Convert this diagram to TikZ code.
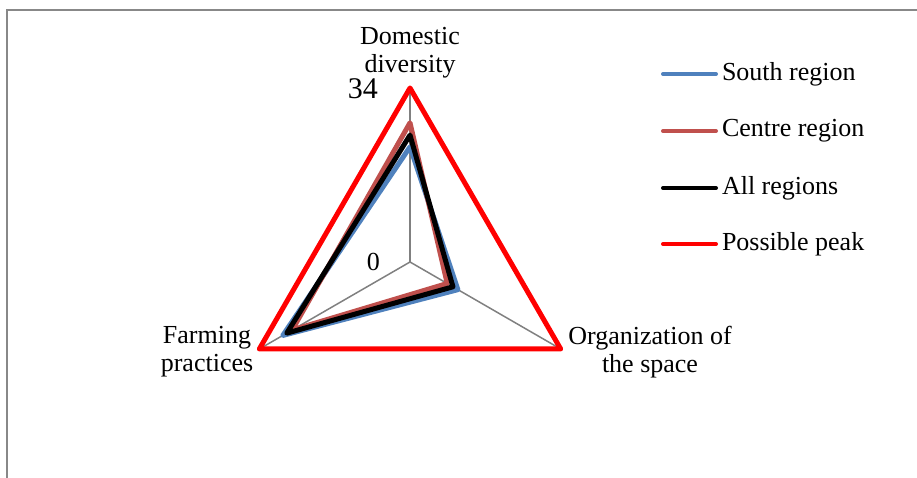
\documentclass[tikz,border=0pt]{standalone}
\usepackage{fontspec}
\setmainfont{Liberation Serif}
\definecolor{southc}{HTML}{4F81BD}
\definecolor{centrec}{HTML}{C0504D}
\definecolor{peakc}{HTML}{FF0000}
\definecolor{framec}{HTML}{888888}
\tikzset{
  lbl/.style={font=\fontsize{26}{28}\selectfont,align=center,inner sep=0pt},
  serie/.style={line width=5pt,line join=round},
  axis/.style={draw=gray,line width=1.5pt},
}
\begin{document}
\begin{tikzpicture}[x=1pt,y=1pt]
  \useasboundingbox (0,0) rectangle (917,478);
  \draw[framec,line width=2pt] (7,0) -- (7,468) -- (917,468);
  \coordinate (c) at (410,216);
  % axes
  \begin{scope}[shift={(c)}]
    \coordinate (dd) at (90:174);
    \coordinate (fp) at (210:174);
    \coordinate (os) at (330:174);
    \draw[axis] (0,0)--(dd);
    \draw[axis] (0,0)--(fp);
    \draw[axis] (0,0)--(os);
    % series (value*5.1176)
    \draw[serie,southc] (90:115.1)--(330:55.3)--(210:146.9)--cycle;
    \draw[serie,centrec] (90:139.2)--(330:43)--(210:136.1)--cycle;
    \draw[serie,black] (90:126.9)--(330:49.6)--(210:142.3)--cycle;
    \draw[serie,peakc] (dd)--(os)--(fp)--cycle;
  \end{scope}
  % labels
  \node[lbl] (tdd) at (410,425.5) {Domestic\\diversity};
  \node[lbl] (tfp) at (207,126) {Farming\\practices};
  \node[lbl] (tos) at (650,126) {Organization of\\the space};
  \node[lbl,anchor=base east,font=\fontsize{30}{32}\selectfont] (n34) at (378,379) {34};
  \node[lbl,anchor=east] (n0) at (380,216) {0};
  % legend
  \foreach \y/\col/\txt in {404/southc/South region,347/centrec/Centre region,290/black/All regions,234/peakc/Possible peak}{
    \coordinate (l\y) at (663,\y);
    \draw[line width=4pt,line cap=round,\col] (l\y) -- ++(53,0) node[lbl,anchor=west,text=black,xshift=4pt] {\txt};
  }
\end{tikzpicture}
\end{document}
